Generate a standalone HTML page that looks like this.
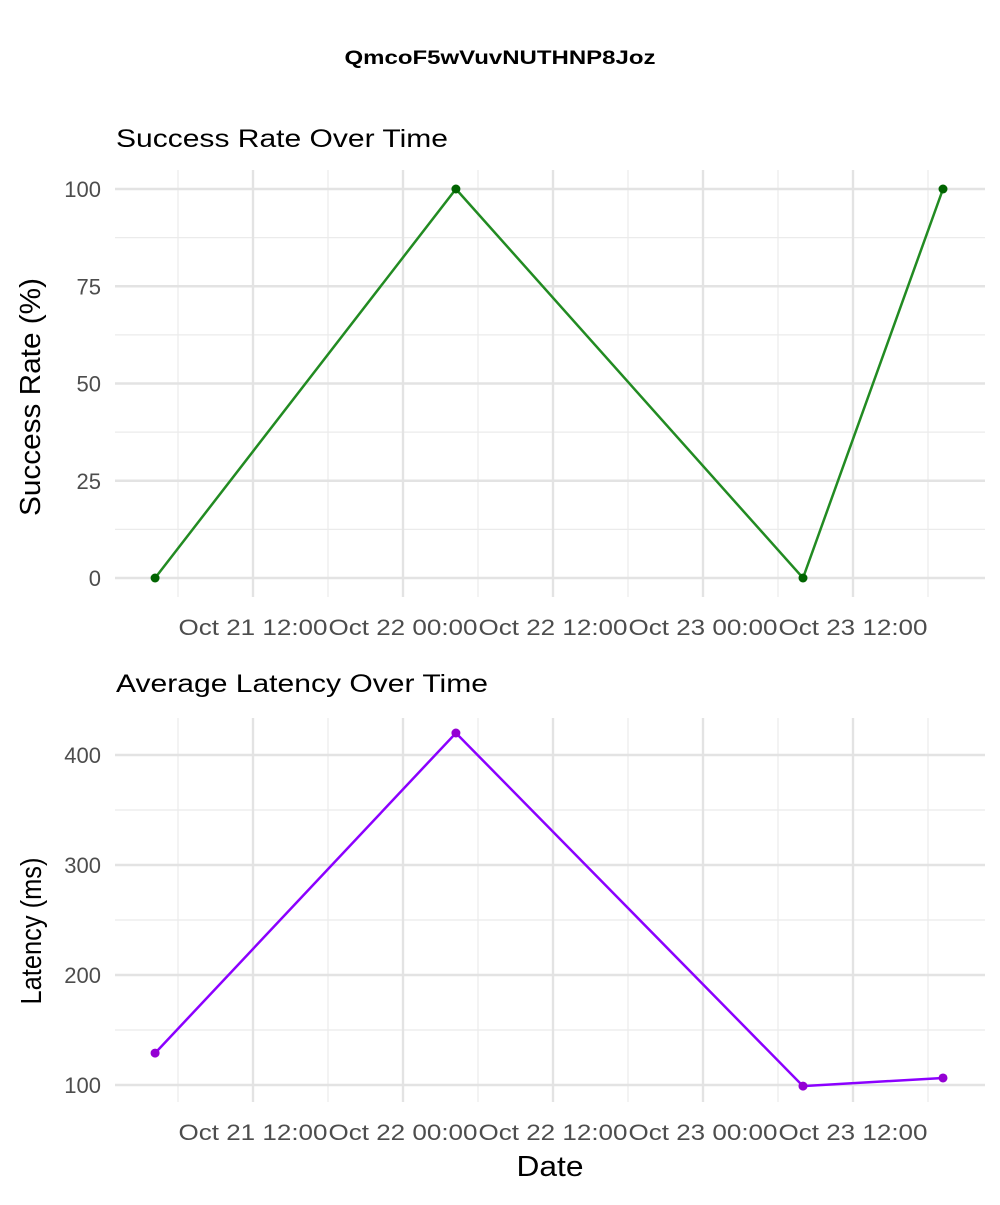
<!DOCTYPE html>
<html><head><meta charset="utf-8"><style>
body{margin:0;background:#fff;font-family:"Liberation Sans",Arial,sans-serif;}
svg text{font-family:"Liberation Sans",Arial,sans-serif;}
</style></head><body>
<svg id="chart" width="1000" height="1200">
<text x="500" y="64" text-anchor="middle" font-size="19" font-weight="bold" textLength="311" lengthAdjust="spacingAndGlyphs">QmcoF5wVuvNUTHNP8Joz</text>
<text x="116" y="147" font-size="25" textLength="332" lengthAdjust="spacingAndGlyphs">Success Rate Over Time</text>
<text x="116" y="692" font-size="25" textLength="372" lengthAdjust="spacingAndGlyphs">Average Latency Over Time</text>
<text transform="translate(40,397) rotate(-90)" text-anchor="middle" font-size="29" textLength="238" lengthAdjust="spacingAndGlyphs">Success Rate (%)</text>
<text transform="translate(41,931) rotate(-90)" text-anchor="middle" font-size="29" textLength="147" lengthAdjust="spacingAndGlyphs">Latency (ms)</text>
<text x="550" y="1176" text-anchor="middle" font-size="29" textLength="67" lengthAdjust="spacingAndGlyphs">Date</text>
</svg>
<script>
const dates=["2024-10-21T04:10","2024-10-22T04:14","2024-10-23T08:00","2024-10-23T19:12"];
const successValues=[0,100,0,100];
const latencyValues=[129,420,99,106.4];
const xTickLabels=["Oct 21 12:00","Oct 22 00:00","Oct 22 12:00","Oct 23 00:00","Oct 23 12:00"];
const xTickDates=["2024-10-21T12:00","2024-10-22T00:00","2024-10-22T12:00","2024-10-23T00:00","2024-10-23T12:00"];
const successTicks=[0,25,50,75,100];
const latencyTicks=[100,200,300,400];

const svg=document.getElementById('chart');
const NS='http://www.w3.org/2000/svg';
const t0=Date.parse("2024-10-21T12:00Z");
function hrs(d){return (Date.parse(d+"Z")-t0)/3600000;}
function xScale(d){return 253+hrs(d)*12.5;}
function mk(tag,attrs){const e=document.createElementNS(NS,tag);for(const k in attrs)e.setAttribute(k,attrs[k]);svg.appendChild(e);return e;}

function panel(name,yTop,yBot,yScale,ticks,vals,color,ptColor){
  for(let i=0;i<=xTickDates.length;i++){
    const x=xScale(xTickDates[0])-75+150*i;
    const g=mk('line',{x1:x,x2:x,y1:yTop,y2:yBot,stroke:'#ebebeb','stroke-width':1.2});
    
    
  }
  for(let i=0;i<ticks.length-1;i++){
    const y=yScale((ticks[i]+ticks[i+1])/2);
    const g=mk('line',{x1:115,x2:985,y1:y,y2:y,stroke:'#ebebeb','stroke-width':1.2});
    
    
  }
  xTickDates.forEach((d,i)=>{
    const x=xScale(d);
    const g=mk('line',{x1:x,x2:x,y1:yTop,y2:yBot,stroke:'#e3e3e3','stroke-width':2.4});
    
    
    const t=mk('text',{x:x,y:yBot+38,'text-anchor':'middle','font-size':22.5,fill:'#4d4d4d',textLength:149,lengthAdjust:'spacingAndGlyphs'});
    t.textContent=xTickLabels[i];
    
    
  });
  ticks.forEach(v=>{
    const y=yScale(v);
    const g=mk('line',{x1:115,x2:985,y1:y,y2:y,stroke:'#e3e3e3','stroke-width':2.4});
    
    
    const t=mk('text',{x:101,y:y+8,'text-anchor':'end','font-size':22,fill:'#4d4d4d'});
    t.textContent=v;
    
    
  });
  const pts=dates.map((d,i)=>xScale(d)+','+yScale(vals[i])).join(' ');
  const l=mk('polyline',{points:pts,fill:'none',stroke:color,'stroke-width':2.5});
  
  
  dates.forEach((d,i)=>{
    const c=mk('circle',{cx:xScale(d),cy:yScale(vals[i]),r:4.5,fill:ptColor});
    
    
  });
}
panel('success',170,597,v=>578-v*3.89,successTicks,successValues,'#228b22','#006400');
panel('latency',718,1102,v=>1085-(v-100)*1.1,latencyTicks,latencyValues,'#8b00ff','#9400d3');
</script>
</body></html>
